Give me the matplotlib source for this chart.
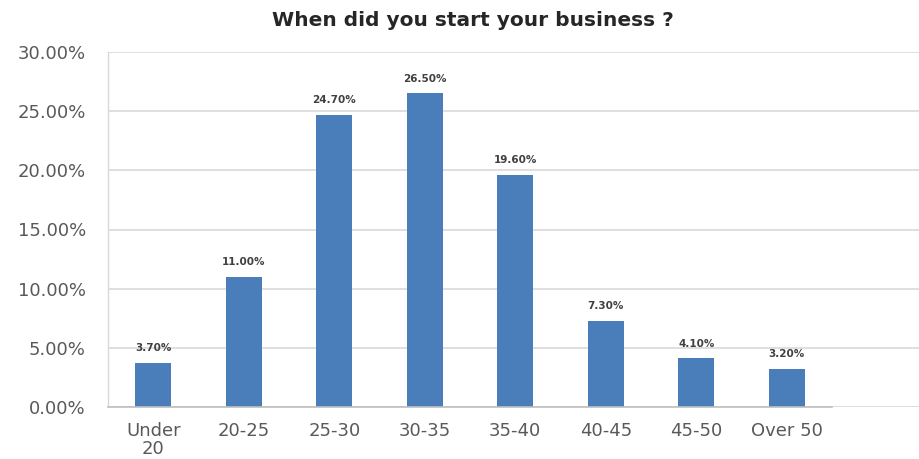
import matplotlib.pyplot as plt
from matplotlib.ticker import FuncFormatter

# age groups and share of respondents (%)
age_groups = ["Under\n20", "20-25", "25-30", "30-35", "35-40", "40-45", "45-50", "Over 50"]
share_pct = [3.70, 11.00, 24.70, 26.50, 19.60, 7.30, 4.10, 3.20]
y_ticks = [0, 5, 10, 15, 20, 25, 30]

fig = plt.figure(figsize=(9.19, 4.59), dpi=100)
ax = fig.add_axes([0.1175, 0.1133, 0.8825, 0.7734])

x = list(range(len(age_groups)))
bars = ax.bar(x, share_pct, width=0.4, color="#4a7ebb", zorder=3)

# value labels above bars
for b, v in zip(bars, share_pct):
    ax.annotate(f"{v:.2f}%", (b.get_x() + b.get_width() / 2, v),
                xytext=(0, 7), textcoords="offset points",
                ha="center", va="bottom", fontsize=7.5, fontweight="bold",
                color="#404040")

ax.set_ylim(0, 30)
ax.set_xlim(-0.5, 8.46)
ax.set_yticks(y_ticks)
ax.yaxis.set_major_formatter(FuncFormatter(lambda v, _: f"{v:.2f}%"))
ax.set_xticks(x)
ax.set_xticklabels(age_groups, linespacing=1.0)

ax.grid(axis="y", color="#d9d9d9", linewidth=1.2, zorder=0)
for s in ["top", "right", "bottom"]:
    ax.spines[s].set_visible(False)
ax.spines["left"].set_color("#d9d9d9")
ax.spines["left"].set_linewidth(1.0)
# category axis only spans the bars
ax.plot([-0.5, 7.5], [0, 0], color="#bfbfbf", linewidth=1.2, zorder=4, clip_on=False)

ax.tick_params(axis="y", length=0, pad=16, labelsize=13, labelcolor="#595959")
ax.tick_params(axis="x", length=0, pad=11, labelsize=13, labelcolor="#595959")

fig.text(0.515, 0.955, "When did you start your business ?", ha="center", va="center",
         fontsize=14.5, fontweight="bold", color="#262626")

fig.savefig("out.png", dpi=100)
